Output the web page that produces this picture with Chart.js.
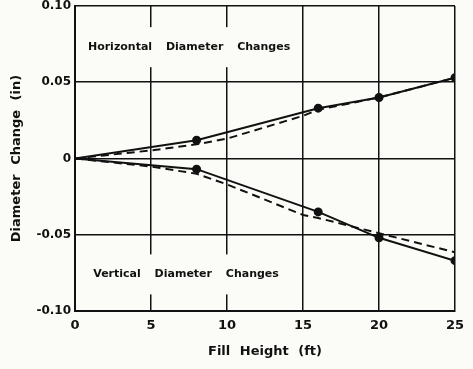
<!DOCTYPE html>
<html>
<head>
<meta charset="utf-8">
<script src="https://cdn.jsdelivr.net/npm/chart.js@4/dist/chart.umd.min.js"></script>
<style>
    html, body { margin: 0; padding: 0; background: #fbfbf7; }
    #wrap { width: 473px; height: 369px; }
</style>
</head>
<body>
<div id="wrap"><canvas id="diameterChart"></canvas></div>
<script>
// measured points (solid line with dots)
const measuredHeights = [0, 8, 16, 20, 25];
const horizMeasured = [0, 0.012, 0.033, 0.040, 0.053];
const vertMeasured = [0, -0.007, -0.035, -0.052, -0.067];

// predicted curves (dashed)
const predictedHeights = [0, 5, 8, 10, 15, 16, 20, 25];
const horizPredicted = [0, 0.0053, 0.0093, 0.013, 0.028, 0.032, 0.040, 0.053];
const vertPredicted = [0, -0.0053, -0.010, -0.017, -0.037, -0.039, -0.049, -0.0615];

const xTicks = [0, 5, 10, 15, 20, 25];
const yTicks = [-0.10, -0.05, 0, 0.05, 0.10];

const plotLabels = ["Horizontal Diameter Changes", "Vertical Diameter Changes"];

const ink = "#111111";
const font = "'DejaVu Sans', sans-serif";

function toPoints(xs, ys) {
    return xs.map((x, i) => ({ x: x, y: ys[i] }));
}

// word labels inside the plot, with the grid cut out behind them
const labelPlugin = {
    id: "plotLabels",
    beforeDraw(chart) {
        chart.ctx.wordSpacing = "5px";
    },
    beforeDatasetsDraw(chart) {
        const { ctx, scales: { x, y } } = chart;
        const spots = [
            { text: plotLabels[0], px: x.getPixelForValue(0.85), py: y.getPixelForValue(0.073) },
            { text: plotLabels[1], px: x.getPixelForValue(1.2), py: y.getPixelForValue(-0.076) }
        ];
        ctx.save();
        ctx.font = "bold 11px " + font;
        ctx.wordSpacing = "10px";
        ctx.textBaseline = "middle";
        ctx.textAlign = "left";
        spots.forEach(s => {
            const w = ctx.measureText(s.text).width;
            ctx.fillStyle = "#fbfbf7";
            ctx.fillRect(s.px - 4, s.py - 20, w + 8, 40);
            ctx.fillStyle = ink;
            ctx.fillText(s.text, s.px, s.py);
        });
        ctx.restore();
    }
};

const ctx = document.getElementById("diameterChart").getContext("2d");

new Chart(ctx, {
    type: "scatter",
    data: {
        datasets: [
            {
                data: toPoints(predictedHeights, horizPredicted),
                showLine: true,
                borderColor: ink,
                borderWidth: 2,
                borderDash: [8, 5],
                pointRadius: 0
            },
            {
                data: toPoints(predictedHeights, vertPredicted),
                showLine: true,
                borderColor: ink,
                borderWidth: 2,
                borderDash: [8, 5],
                pointRadius: 0
            },
            {
                data: toPoints(measuredHeights, horizMeasured),
                showLine: true,
                borderColor: ink,
                borderWidth: 2,
                pointRadius: [0, 3.5, 3.5, 3.5, 3.5],
                pointBackgroundColor: ink,
                pointBorderColor: ink
            },
            {
                data: toPoints(measuredHeights, vertMeasured),
                showLine: true,
                borderColor: ink,
                borderWidth: 2,
                pointRadius: [0, 3.5, 3.5, 3.5, 3.5],
                pointBackgroundColor: ink,
                pointBorderColor: ink
            }
        ]
    },
    options: {
        responsive: true,
        maintainAspectRatio: false,
        animation: false,
        layout: { padding: { top: 0, right: 18, left: 0, bottom: 0 } },
        plugins: {
            legend: { display: false },
            tooltip: { enabled: false }
        },
        scales: {
            x: {
                type: "linear",
                min: xTicks[0],
                max: xTicks[xTicks.length - 1],
                afterBuildTicks: (scale) => { scale.ticks = xTicks.map(v => ({ value: v })); },
                afterFit: (scale) => { scale.height = 58; },
                grid: { color: ink, lineWidth: 1.5, drawTicks: false },
                border: { color: ink, width: 2 },
                ticks: {
                    color: ink,
                    padding: 7,
                    font: { family: font, size: 13, weight: "bold" }
                },
                title: {
                    display: true,
                    text: "Fill Height (ft)",
                    color: ink,
                    padding: { top: 0, bottom: 10 },
                    font: { family: font, size: 13, weight: "bold" }
                }
            },
            y: {
                type: "linear",
                min: yTicks[0],
                max: yTicks[yTicks.length - 1],
                afterBuildTicks: (scale) => { scale.ticks = yTicks.map(v => ({ value: v })); },
                afterFit: (scale) => {
                    scale.width = 75;
                    scale.paddingTop = 5;
                },
                grid: { color: ink, lineWidth: 1.5, drawTicks: false },
                border: { color: ink, width: 2 },
                ticks: {
                    color: ink,
                    padding: 4,
                    font: { family: font, size: 12, weight: "bold" },
                    callback: (value) => Math.abs(value) < 1e-9 ? "0" : value.toFixed(2)
                },
                title: {
                    display: true,
                    text: "Diameter Change (in)",
                    color: ink,
                    padding: { top: 9, bottom: 0 },
                    font: { family: font, size: 13, weight: "bold" }
                }
            }
        }
    },
    plugins: [labelPlugin]
});
</script>
</body>
</html>
